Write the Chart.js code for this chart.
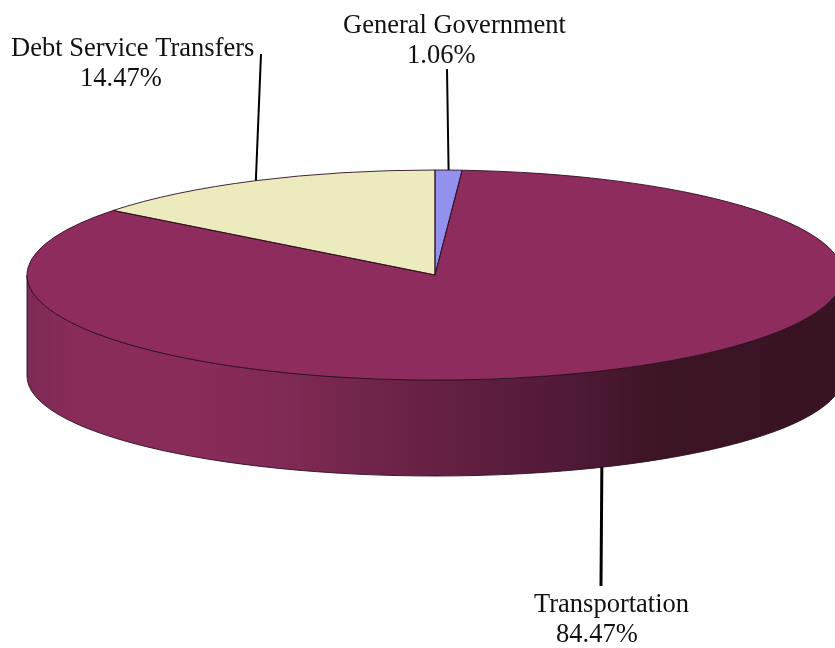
<!DOCTYPE html>
<html>
<head>
<meta charset="utf-8">
<title>Expenditures by function</title>
<script src="https://cdn.jsdelivr.net/npm/chart.js@4"></script>
<style>
  html, body { margin: 0; padding: 0; background: #fff; width: 835px; height: 648px; overflow: hidden; }
  /* the pie runs off the right edge in the original, so the canvas is wider than the page */
  #wrap { width: 835px; height: 648px; overflow: hidden; }
</style>
</head>
<body>
<div id="wrap"><canvas id="chart" width="870" height="648"></canvas></div>
<script>
// clockwise from 12 o'clock
const categories = ['General Government', 'Transportation', 'Debt Service Transfers'];
const shares = [1.06, 84.47, 14.47];
const sliceColors = ['#9292ee', '#8e2d5d', '#ecebbd'];

// look of the fake 3d disc
const pieRadius = 408;
const pieCenterY = 275;
const squash = 105 / 408;
const rimCenterY = 376; // lower rim has a little perspective, flatter than the top face
const rimSquash = 100 / 408;
const edgeColor = 'rgba(48, 14, 34, 0.9)';
const wallStops = [
  [0, '#7d2a54'], [0.06, '#8a2c5a'], [0.2, '#8a2c5a'], [0.32, '#7f2a54'], [0.42, '#702449'],
  [0.52, '#632042'], [0.62, '#561b39'], [0.7, '#4a1831'], [0.78, '#3c1425'], [1, '#381323']
];

// where each label goes: [text line x, baseline y] pairs, then the free end of its leader
const labelFont = '26.5px "Liberation Serif", "Times New Roman", serif';
const labelLayout = [
  { x: [343, 407], y: [33, 63], lead: [447, 69], width: 2 },
  { x: [534, 556], y: [612, 642], lead: [601, 586], width: 3 },
  { x: [11, 80], y: [56, 86], lead: [261, 54], width: 2 }
];

const disc3d = {
  id: 'disc3d',
  beforeDatasetDraw(chart, args) {
    const ctx = chart.ctx;
    const arc = args.meta.data[0];
    const rx = arc.outerRadius;

    // side wall, front half of the ellipse pushed down
    const grad = ctx.createLinearGradient(arc.x - rx, 0, arc.x + rx, 0);
    wallStops.forEach(s => grad.addColorStop(s[0], s[1]));
    ctx.save();
    ctx.beginPath();
    ctx.ellipse(arc.x, pieCenterY, rx, rx * squash, 0, Math.PI, 0, true);
    ctx.ellipse(arc.x, rimCenterY, rx, rx * rimSquash, 0, 0, Math.PI);
    ctx.closePath();
    ctx.fillStyle = grad;
    ctx.fill();
    ctx.strokeStyle = edgeColor;
    ctx.lineWidth = 1;
    ctx.stroke();
    ctx.restore();

    // flatten the round pie into the top face
    ctx.save();
    ctx.translate(arc.x, pieCenterY);
    ctx.scale(1, squash);
    ctx.translate(-arc.x, -arc.y);
  },
  afterDatasetDraw(chart, args) {
    const ctx = chart.ctx;
    ctx.restore();

    // outlines are stroked unscaled, otherwise the line thins out with the squash
    args.meta.data.forEach(arc => {
      const rx = arc.outerRadius;
      ctx.save();
      ctx.beginPath();
      ctx.moveTo(arc.x, pieCenterY);
      ctx.ellipse(arc.x, pieCenterY, rx, rx * squash, 0, arc.startAngle, arc.endAngle);
      ctx.closePath();
      ctx.strokeStyle = edgeColor;
      ctx.lineWidth = 1;
      ctx.stroke();
      ctx.restore();
    });
  },
  afterDraw(chart) {
    const ctx = chart.ctx;
    const arcs = chart.getDatasetMeta(0).data;
    ctx.save();
    arcs.forEach((arc, i) => {
      const layout = labelLayout[i];
      const mid = (arc.startAngle + arc.endAngle) / 2;
      const rx = arc.outerRadius;
      // front slices are hit on the wall's lower rim
      const tipY = Math.sin(mid) > 0
        ? rimCenterY + Math.sin(mid) * rx * rimSquash
        : pieCenterY + Math.sin(mid) * rx * squash;
      const tipX = arc.x + Math.cos(mid) * rx;

      ctx.beginPath();
      ctx.moveTo(layout.lead[0], layout.lead[1]);
      ctx.lineTo(tipX, tipY);
      ctx.strokeStyle = '#000';
      ctx.lineWidth = layout.width;
      ctx.stroke();

      ctx.font = labelFont;
      ctx.fillStyle = '#111';
      ctx.textAlign = 'left';
      ctx.textBaseline = 'alphabetic';
      ctx.fillText(categories[i], layout.x[0], layout.y[0]);
      ctx.fillText(shares[i].toFixed(2) + '%', layout.x[1], layout.y[1]);
    });
    ctx.restore();
  }
};

new Chart(document.getElementById('chart').getContext('2d'), {
  type: 'pie',
  data: {
    labels: categories,
    datasets: [{
      data: shares,
      backgroundColor: sliceColors,
      borderWidth: 0,
      radius: pieRadius,
      clip: false
    }]
  },
  options: {
    responsive: false,
    devicePixelRatio: 1,
    animation: false,
    plugins: {
      legend: { display: false },
      title: { display: false },
      tooltip: { enabled: false }
    }
  },
  plugins: [disc3d]
});
</script>
</body>
</html>
